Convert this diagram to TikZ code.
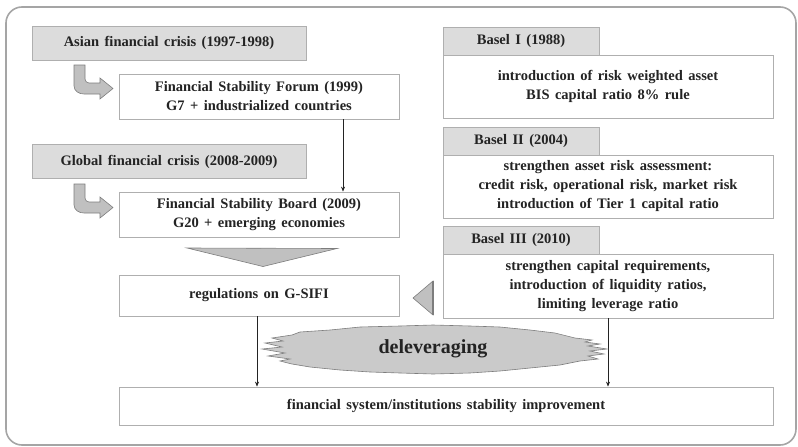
\documentclass[tikz,border=0pt]{standalone}
\usepackage{fontspec}
\setmainfont{Liberation Serif}[WordSpace=1.5]
\usetikzlibrary{arrows.meta, positioning, calc}
\definecolor{FrameGray}{RGB}{165,165,165}
\definecolor{TabGray}{RGB}{220,220,220}
\definecolor{LineGray}{RGB}{175,175,175}
\definecolor{ArrowGray}{RGB}{192,192,192}
\definecolor{ArrowEdge}{RGB}{125,125,125}
\definecolor{InkGray}{RGB}{35,35,35}
\definecolor{BurstGray}{RGB}{202,202,202}

\begin{document}
\begin{tikzpicture}[x=1pt, y=-1pt,
        >={Stealth[length=5pt,width=4pt]},
        box/.style={draw=LineGray, line width=0.8pt, fill=white, text=InkGray, align=center, inner sep=0pt, font=\fontsize{14.5}{19}\selectfont\bfseries},
        crisis/.style={box, fill=TabGray, minimum width=274pt, minimum height=34pt},
        forum/.style={box, minimum width=280pt, minimum height=45pt},
        tab/.style={box, fill=TabGray, minimum width=156pt, minimum height=28pt},
        basel/.style={box, minimum width=330pt, minimum height=63pt},
        link/.style={->, InkGray, line width=0.6pt},
        fat/.style={fill=ArrowGray, draw=ArrowEdge, line width=0.6pt}
    ]
    \useasboundingbox (0,0) rectangle (798,447);

    % Rahmen
    \draw[FrameGray, line width=1.6pt, rounded corners=16pt] (6,7) rectangle (796,445);

    % Krisen und Gremien
    \node[crisis] (asian) at (169,43) {Asian financial crisis (1997-1998)};
    \node[forum] (fsf) at (259,96.5) {Financial Stability Forum (1999)\\G7 + industrialized countries};
    \node[crisis] (global) at (169,161.5) {Global financial crisis (2008-2009)};
    \node[forum] (fsb) at (259,214.5) {Financial Stability Board (2009)\\G20 + emerging economies};
    \node[box, minimum width=280pt, minimum height=41pt] (reg) at (259,295.5) {regulations on G-SIFI};

    % Basel-Abkommen
    \node[tab] (b1tab) at (521,41) {Basel I (1988)};
    \node[basel] (b1) at (608,86.5) {introduction of risk weighted asset\\BIS capital ratio 8\% rule};
    \node[tab] (b2tab) at (521,141) {Basel II (2004)};
    \node[basel] (b2) at (608,186.5) {strengthen asset risk assessment:\\credit risk, operational risk, market risk\\introduction of Tier 1 capital ratio};
    \node[tab] (b3tab) at (521,240) {Basel III (2010)};
    \node[basel, minimum height=64pt] (b3) at (608,286) {strengthen capital requirements,\\introduction of liquidity ratios,\\limiting leverage ratio};

    % Ergebnis
    \node[box, minimum width=654pt, minimum height=38pt] (final) at (446,406) {financial system/institutions stability improvement};

    % gebogene Pfeile
    \foreach \dy in {0,119} {
        \begin{scope}[shift={(0,\dy)}]
            \draw[fat] (74,65) -- (74,86) to[out=-90,in=180] (84,94) -- (100,94) -- (100,99)
                -- (113,88.5) -- (100,78) -- (100,83) -- (89,83) to[out=180,in=-90] (85,79) -- (85,65) -- cycle;
        \end{scope}
    }

    % Dreiecke
    \draw[fat] (187,248) -- (337,248.5) -- (263,266.5) -- cycle;
    \draw[fat] (413,298) -- (433,281) -- (433,315) -- cycle;
    \draw[ArrowEdge, line width=1.2pt] (433,281) -- (433,315);

    % Verbindungen
    \draw[link] ([xshift=84pt]fsf.south) -- ([xshift=84pt]fsb.north);
    \draw[link] ([xshift=-2pt]reg.south) -- ([xshift=-2pt]reg.south |- final.north);
    \draw[link] (b3.south) -- (b3.south |- final.north);

    % Entschuldung
    \draw[fill=BurstGray, draw=ArrowEdge, line width=0.6pt]
        (300,332) -- (330,330) -- (360,327) -- (400,326) -- (433,325) -- (470,326) -- (500,327)
        -- (530,330) -- (555,333) -- (575,338) -- (592,340) -- (585,342) -- (600,344) -- (588,346)
        -- (607,349) -- (590,351) -- (604,354) -- (588,356) -- (598,359) -- (580,361) -- (560,365)
        -- (530,368) -- (500,371) -- (470,373) -- (433,374) -- (400,373) -- (370,372) -- (340,370)
        -- (310,367) -- (292,364) -- (280,361) -- (290,359) -- (268,356) -- (285,353) -- (262,349)
        -- (282,347) -- (265,343) -- (283,341) -- (272,338) -- (292,335) -- cycle;
    \node[text=InkGray, font=\fontsize{20}{24}\selectfont\bfseries] (delev) at (433,349) {deleveraging};

\end{tikzpicture}
\end{document}
